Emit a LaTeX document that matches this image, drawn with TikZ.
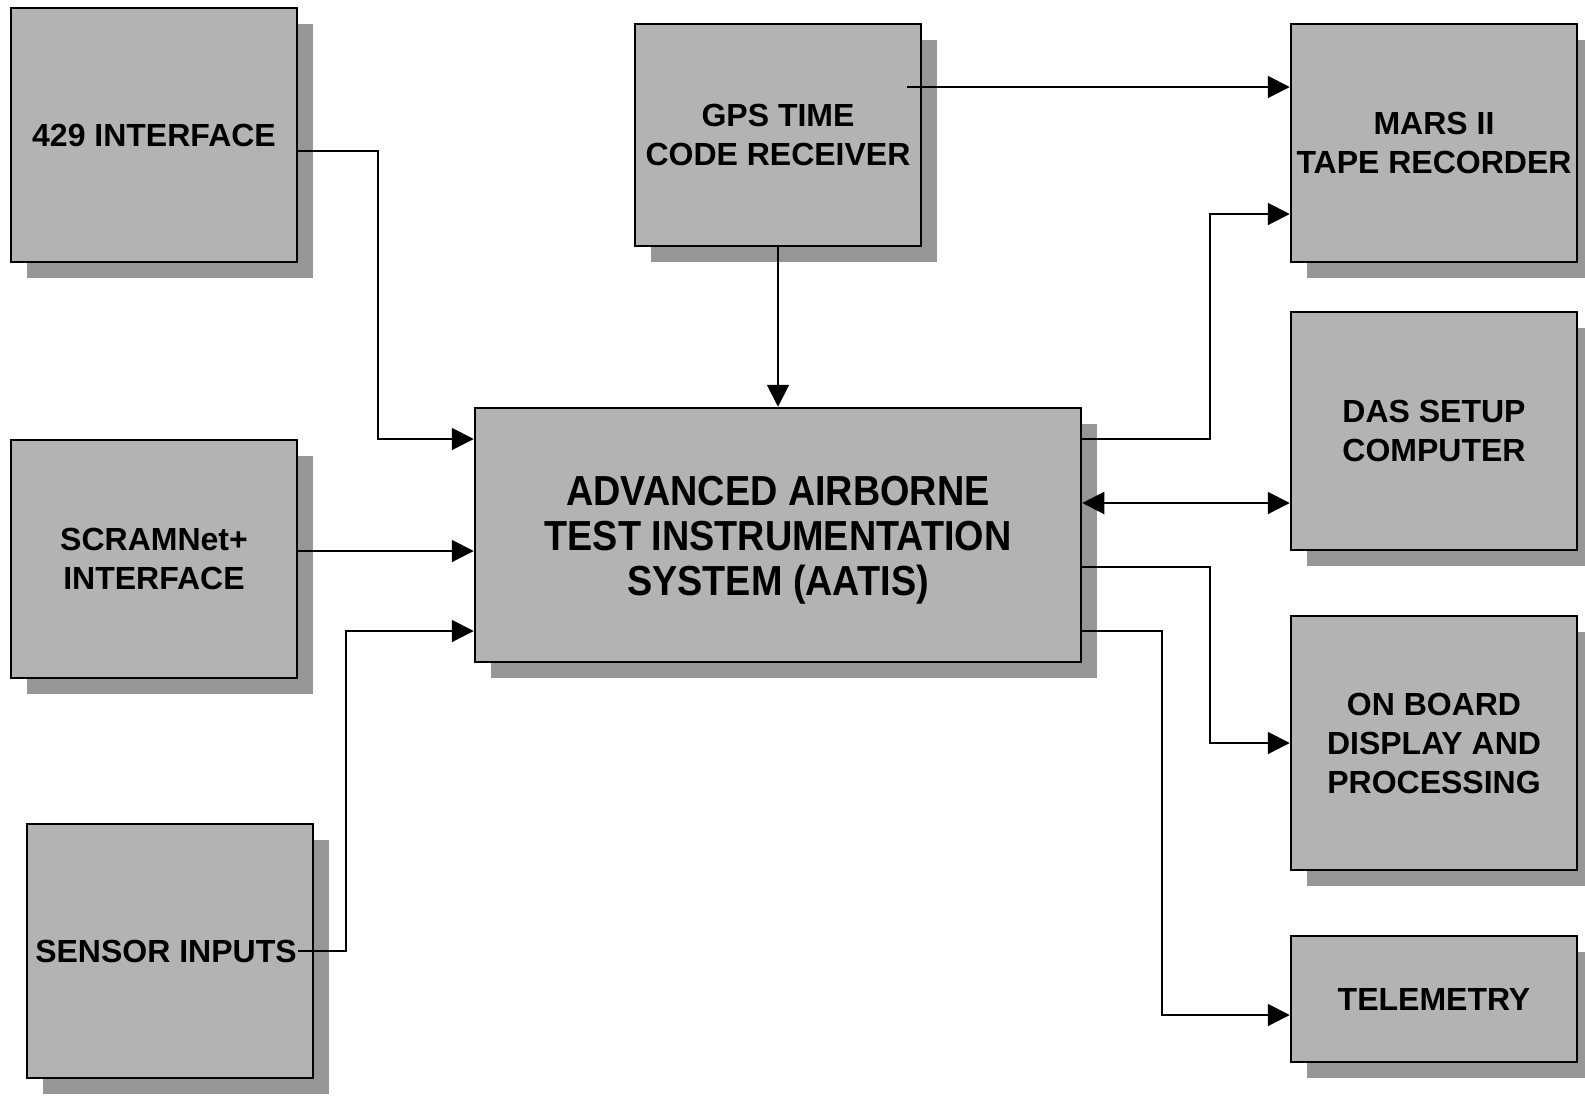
\documentclass[tikz,border=0pt]{standalone}
\usepackage{fontspec}
\setmainfont{Liberation Sans}
\newfontfamily\aatisfont{Liberation Sans}[FakeStretch=0.9]
\usepackage{tikz}
\usetikzlibrary{arrows.meta,shadows}
\definecolor{boxgray}{RGB}{179,179,179}
\definecolor{shadegray}{RGB}{150,150,150}

\begin{document}
\begin{tikzpicture}[x=0.5pt,y=-0.5pt,
  >={Triangle[length=11pt,width=11pt]},
  unit/.style={draw,line width=1.25pt,fill=boxgray,inner sep=0pt,align=center,
    minimum width=143pt,font=\fontsize{16}{19.5}\selectfont\bfseries,
    drop shadow={shadow xshift=8pt,shadow yshift=-8pt,fill=shadegray,opacity=1}},
  arr/.style={line width=1pt,->}]
\useasboundingbox (0,0) rectangle (1585,1099);
\node[unit,minimum height=127pt] (iface) at (154,135) {429 INTERFACE};
\node[unit,minimum height=119pt] (scram) at (154,559) {SCRAMNet+\\INTERFACE};
\node[unit,minimum height=127pt] (sensor) at (170,951) {SENSOR INPUTS\hspace*{4pt}};
\node[unit,minimum height=111pt] (gps) at (778,135) {GPS TIME\\CODE RECEIVER};
\node[unit,minimum width=303pt,minimum height=127pt,
  font=\fontsize{21}{22.5}\selectfont\aatisfont\bfseries] (aatis) at (778,535)
  {\rule{0pt}{20pt}ADVANCED AIRBORNE\\TEST INSTRUMENTATION\\SYSTEM (AATIS)};
\node[unit,minimum height=119pt] (mars) at (1434,143) {MARS II\\TAPE RECORDER};
\node[unit,minimum height=119pt] (das) at (1434,431) {DAS SETUP\\COMPUTER};
\node[unit,minimum height=127pt] (onboard) at (1434,743) {ON BOARD\\DISPLAY AND\\PROCESSING};
\node[unit,minimum height=63pt] (telem) at (1434,999) {TELEMETRY};
\draw[arr] ([yshift=-8pt]iface.east) -| (378,439) -- (aatis.west |- 378,439);
\draw[arr] (scram.east |- 0,551) -- (aatis.west |- 0,551);
\draw[arr] ([xshift=-8pt]sensor.east) -| (346,631) -- (aatis.west |- 0,631);
\draw[arr] (gps.south) -- (gps.south |- aatis.north);
\draw[arr] ([xshift=-7.5pt,yshift=24pt]gps.east) -- (mars.west |- 0,87);
\draw[arr] (aatis.east |- 0,439) -| (1210,214) -- (mars.west |- 0,214);
\draw[arr,<->] (aatis.east |- 0,503) -- (das.west |- 0,503);
\draw[arr] (aatis.east |- 0,567) -| (1210,743) -- (onboard.west);
\draw[arr] (aatis.east |- 0,631) -| (1162,1015) -- (telem.west |- 0,1015);
\end{tikzpicture}
\end{document}
